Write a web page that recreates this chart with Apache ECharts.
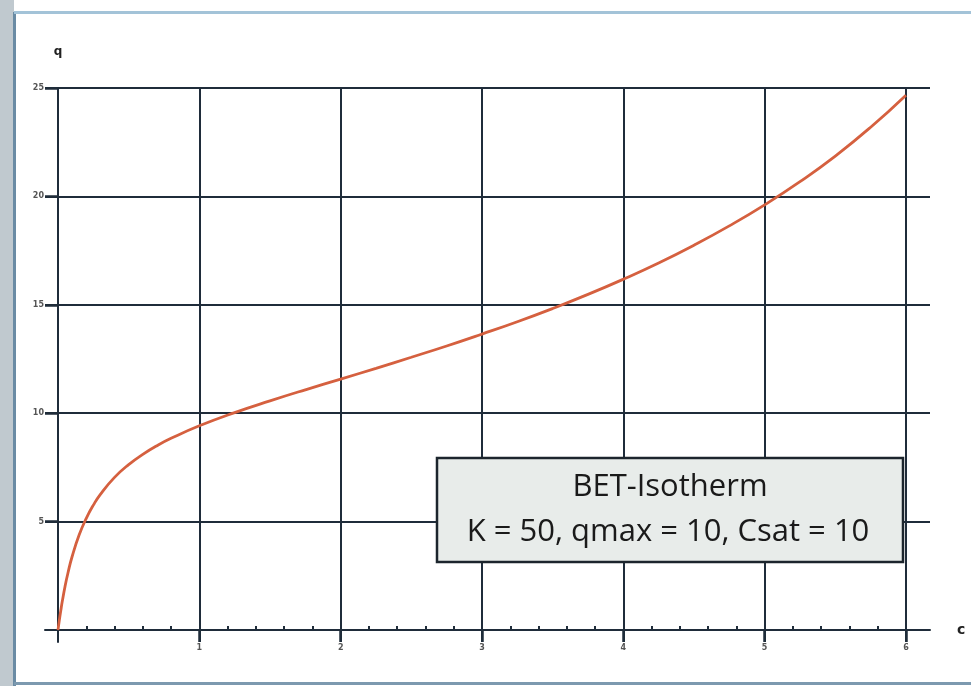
<!DOCTYPE html>
<html>
<head>
<meta charset="utf-8">
<script src="https://cdn.jsdelivr.net/npm/echarts@6/dist/echarts.min.js"></script>
<style>
  html, body { margin: 0; padding: 0; background: #ffffff; }
  #chart { width: 971px; height: 686px; }
</style>
</head>
<body>
<div id="chart"></div>
<script>
// BET isotherm: loading q against concentration c
const cValues = [0, 0.01, 0.02, 0.03, 0.05, 0.07, 0.1, 0.15, 0.2, 0.25, 0.3, 0.4, 0.5, 0.6, 0.7, 0.8,
  1.0, 1.25, 1.5, 1.75, 2.0, 2.25, 2.5, 2.75, 3.0, 3.25, 3.5, 3.75, 4.0, 4.25, 4.5, 4.75,
  5.0, 5.25, 5.5, 5.75, 6.0];
const qValues = [0, 0.48, 0.91, 1.31, 2.02, 2.62, 3.39, 4.39, 5.15, 5.76, 6.26, 7.04, 7.63, 8.10, 8.50, 8.84,
  9.42, 10.03, 10.57, 11.08, 11.57, 12.07, 12.58, 13.10, 13.65, 14.22, 14.83, 15.48, 16.18, 16.93, 17.75, 18.64,
  19.61, 20.68, 21.86, 23.19, 24.67];

const xTicks = [1, 2, 3, 4, 5, 6];
const yTicks = [5, 10, 15, 20, 25];
const xMinorTicks = [0.2, 0.4, 0.6, 0.8, 1.2, 1.4, 1.6, 1.8, 2.2, 2.4, 2.6, 2.8, 3.2, 3.4, 3.6, 3.8,
  4.2, 4.4, 4.6, 4.8, 5.2, 5.4, 5.6, 5.8];

const boxTitle = 'BET-Isotherm';
const boxParams = 'K = 50, qmax = 10, Csat = 10';

const ink = '#1f2c3a';
const curveColor = '#d5603f';

const chart = echarts.init(document.getElementById('chart'), null, { renderer: 'canvas' });

const xRange = { min: -0.092, max: 6.17 };

chart.setOption({
  animation: false,
  backgroundColor: '#ffffff',
  grid: { left: 45, right: 41, top: 88, bottom: 44 },
  xAxis: [{
    type: 'value',
    min: xRange.min,
    max: xRange.max,
    name: 'c',
    nameLocation: 'end',
    nameGap: 27,
    nameTextStyle: { fontSize: 14, fontWeight: 'bold', color: '#222', fontFamily: 'DejaVu Sans', verticalAlign: 'middle' },
    axisLine: { onZero: true, lineStyle: { color: ink, width: 2 } },
    axisTick: { customValues: xTicks, length: 12, lineStyle: { color: ink, width: 2.5 } },
    axisLabel: { customValues: xTicks, fontSize: 8, fontWeight: 'bold', color: '#555', margin: 2, fontFamily: 'DejaVu Sans' },
    splitLine: { show: true, lineStyle: { color: ink, width: 2 } }
  }, {
    type: 'value',
    min: xRange.min,
    max: xRange.max,
    position: 'bottom',
    offset: -12,
    axisLine: { show: false, onZero: false },
    axisTick: { customValues: xMinorTicks, inside: true, length: 4, lineStyle: { color: ink, width: 2 } },
    axisLabel: { show: false },
    splitLine: { show: false }
  }],
  yAxis: {
    type: 'value',
    min: -0.553,
    max: 25,
    name: 'q',
    nameLocation: 'end',
    nameGap: 30,
    nameTextStyle: { fontSize: 12, fontWeight: 'bold', color: '#222', fontFamily: 'DejaVu Sans', align: 'center' },
    axisLine: { onZero: true, lineStyle: { color: ink, width: 2 } },
    axisTick: { customValues: yTicks, length: 13, lineStyle: { color: ink, width: 2.5 } },
    axisLabel: { customValues: yTicks, fontSize: 8, fontWeight: 'bold', color: '#555', margin: 1, fontFamily: 'DejaVu Sans' },
    splitLine: { show: true, lineStyle: { color: ink, width: 2 } }
  },
  series: [{
    type: 'line',
    data: cValues.map((c, i) => [c, qValues[i]]),
    smooth: true,
    showSymbol: false,
    lineStyle: { color: curveColor, width: 2.8 },
    z: 5
  }],
  graphic: [
    // scanned page frame: grey strip on the left, thin blue rules top and bottom
    { type: 'rect', z: 100, shape: { x: 0, y: 0, width: 14, height: 686 }, style: { fill: '#c0c9cf' } },
    { type: 'rect', z: 101, shape: { x: 13, y: 12, width: 3, height: 674 }, style: { fill: '#6a8ba4' } },
    { type: 'rect', z: 101, shape: { x: 14, y: 11, width: 957, height: 3 }, style: { fill: '#a3c3d8' } },
    { type: 'rect', z: 101, shape: { x: 14, y: 682, width: 957, height: 3 }, style: { fill: '#7c99af' } },
    // annotation box with the isotherm parameters
    { type: 'rect', z: 110, shape: { x: 437, y: 458, width: 466, height: 104 },
      style: { fill: '#e8ecea', stroke: '#1c252d', lineWidth: 2.5 } },
    { type: 'text', z: 111, x: 670, y: 487,
      style: { text: boxTitle, fill: '#1a1a1a', fontSize: 31, fontFamily: 'Open Sans', align: 'center', verticalAlign: 'middle' } },
    { type: 'text', z: 111, x: 668, y: 532,
      style: { text: boxParams, fill: '#1a1a1a', fontSize: 31, fontFamily: 'Open Sans', align: 'center', verticalAlign: 'middle' } }
  ]
});
</script>
</body>
</html>
